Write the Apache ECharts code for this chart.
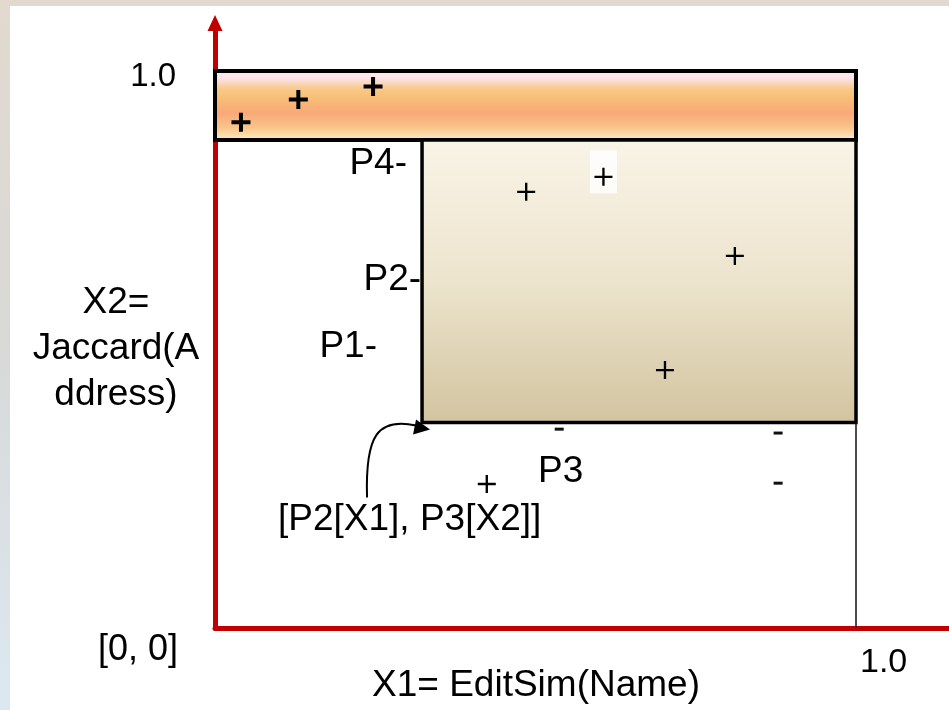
<!DOCTYPE html>
<html><head><meta charset="utf-8">
<script src="https://cdn.jsdelivr.net/npm/echarts@6/dist/echarts.min.js"></script>
<style>html,body{margin:0;padding:0;background:#fff}#c{width:949px;height:710px}</style>
</head><body><div id="c"></div>
<script>
// ---- data (normalized similarity space, [0,1] x [0,1]) ----
const plusBold = [[0.0405, 0.908], [0.130, 0.949], [0.2466, 0.972]];
const plusThin = [[0.4855, 0.783], [0.606, 0.810], [0.811, 0.668], [0.702, 0.463], [0.424, 0.2585]];
const highlighted = [[0.606, 0.810]];
const minusPts = [[0.537, 0.357], [0.8785, 0.350], [0.8785, 0.260]];
const P2x1 = 0.323;   // threshold on X1
const P3x2 = 0.369;   // threshold on X2
const P4x2 = 0.876;   // threshold on X2 (upper band)
const xTicks = [1];
const yTicks = [1];
const xTickLabels = ['1.0'];
const yTickLabels = ['1.0'];
const originLabel = '[0, 0]';
const xName = 'X1= EditSim(Name)';
const yName = 'X2=\nJaccard(A\nddress)';

const FONT = 'Liberation Sans';
const chart = echarts.init(document.getElementById('c'));
const x0 = 215, x1 = 856, y0 = 628, y1 = 71;
const xMax = (949 - x0) / (x1 - x0);
const yMax = (y0 - 23) / (y0 - y1);

const option = {
  backgroundColor: '#ffffff',
  animation: false,
  grid: { left: x0, right: 0, top: 23, bottom: 710 - y0 },
  xAxis: {
    type: 'value', min: 0, max: xMax,
    splitLine: { show: false },
    axisTick: { show: false },
    axisLine: { show: true, lineStyle: { color: '#c00000', width: 5 } },
    axisLabel: {
      customValues: xTicks,
      formatter: v => xTickLabels[xTicks.indexOf(v)],
      align: 'left', margin: 18, padding: [0, 0, 0, 4],
      fontSize: 34, fontFamily: FONT, color: '#000'
    }
  },
  yAxis: {
    type: 'value', min: 0, max: yMax,
    splitLine: { show: false },
    axisTick: { show: false },
    axisLine: { show: true, symbol: ['none', 'triangle'], symbolSize: [15, 16],
      lineStyle: { color: '#c00000', width: 5 } },
    axisLabel: {
      customValues: yTicks,
      formatter: v => '{a|' + yTickLabels[yTicks.indexOf(v)] + '}',
      margin: 39,
      rich: { a: { fontSize: 33, fontFamily: FONT, color: '#000', padding: [11, 0, 0, 0] } }
    }
  },
  series: [
    {
      type: 'scatter', data: [], silent: true, z: 2,
      markArea: {
        silent: true,
        label: { show: false },
        data: [
          [{ coord: [0, P4x2], itemStyle: {
              color: new echarts.graphic.LinearGradient(0, 0, 0, 1, [
                { offset: 0, color: '#fdeaf3' },
                { offset: 0.12, color: '#fce5ec' },
                { offset: 0.27, color: '#f9c98a' },
                { offset: 0.38, color: '#f7c077' },
                { offset: 0.6, color: '#f8a978' },
                { offset: 0.8, color: '#f9c48a' },
                { offset: 0.89, color: '#fbd9a4' },
                { offset: 0.96, color: '#fde3e0' },
                { offset: 1, color: '#fde6e8' }
              ]),
              borderColor: '#000', borderWidth: 4 } },
           { coord: [1, 1] }],
          [{ coord: [P2x1, P3x2], itemStyle: {
              color: new echarts.graphic.LinearGradient(0, 0, 0, 1, [
                { offset: 0, color: '#f9f4e8' },
                { offset: 0.5, color: '#ede4cd' },
                { offset: 1, color: '#d2c4a0' }
              ]),
              borderColor: '#000', borderWidth: 3.5 } },
           { coord: [1, P4x2] }]
        ]
      },
      markLine: {
        silent: true, symbol: ['none', 'none'],
        label: { show: false },
        lineStyle: { color: '#111', width: 1.5, type: 'solid' },
        data: [[{ coord: [1, P3x2] }, { coord: [1, 0] }]]
      }
    },
    {
      type: 'scatter', data: highlighted, z: 3, silent: true,
      symbol: 'rect', symbolSize: [27, 43], symbolOffset: [0, -5],
      itemStyle: { color: '#ffffff' }
    },
    {
      type: 'scatter', data: plusBold, z: 4, silent: true,
      symbol: 'path://M7.9,0H12.1V7.9H20V12.1H12.1V20H7.9V12.1H0V7.9H7.9Z',
      symbolSize: 19, itemStyle: { color: '#000', opacity: 1 }
    },
    {
      type: 'scatter', data: plusThin, z: 4, silent: true,
      symbol: 'path://M8.7,0H11.3V8.7H20V11.3H11.3V20H8.7V11.3H0V8.7H8.7Z',
      symbolSize: 18, itemStyle: { color: '#000', opacity: 1 }
    },
    {
      type: 'scatter', data: minusPts, z: 4, silent: true,
      symbol: 'rect', symbolSize: [9, 3], itemStyle: { color: '#111', opacity: 1 }
    }
  ]
};
chart.setOption(option);

// annotations anchored to the data corner [P2, P3]
const c = chart.convertToPixel({ gridIndex: 0 }, [P2x1, P3x2]);
const txt = (text, x, y, size, align, extra) => ({
  type: 'text', z: 10, silent: true,
  style: Object.assign({ text, x, y, fill: '#000', fontSize: size, fontFamily: FONT,
    align: align, verticalAlign: 'middle' }, extra || {})
});
chart.setOption({
  graphic: [
    { type: 'rect', z: -1, silent: true, shape: { x: 0, y: 0, width: 949, height: 6 },
      style: { fill: '#e1d8ce' } },
    { type: 'rect', z: -1, silent: true, shape: { x: 0, y: 0, width: 10, height: 710 },
      style: { fill: new echarts.graphic.LinearGradient(0, 0, 0, 1, [
        { offset: 0, color: '#e2d9cf' }, { offset: 0.5, color: '#d8d9d8' }, { offset: 1, color: '#dce8f1' }]) } },
    txt('P4-', 407, 164, 37, 'right'),
    txt('P2-', c[0] - 1, 280, 37, 'right'),
    txt('P1-', 377, 347, 37, 'right'),
    txt('P3', c[0] + 116, 472, 37, 'left'),
    txt('[P2[X1], P3[X2]]', 278, 520, 37, 'left'),
    txt(originLabel, 178, 650, 36, 'right'),
    txt(xName, 536, 686, 37, 'center'),
    txt(yName, 116, 349, 37, 'center', { lineHeight: 46 }),
    { type: 'bezierCurve', z: 10, silent: true,
      shape: { x1: c[0] - 55, y1: c[1] + 75, x2: c[0] - 6, y2: c[1] + 3,
               cpx1: c[0] - 57, cpy1: c[1] + 12, cpx2: c[0] - 44, cpy2: c[1] - 5 },
      style: { stroke: '#000', lineWidth: 2, fill: null } },
    { type: 'polygon', z: 10, silent: true,
      shape: { points: [[c[0] + 8, c[1] + 7], [c[0] - 6, c[1] - 3], [c[0] - 9, c[1] + 12]] },
      style: { fill: '#000' } }
  ]
});
</script>
</body></html>
